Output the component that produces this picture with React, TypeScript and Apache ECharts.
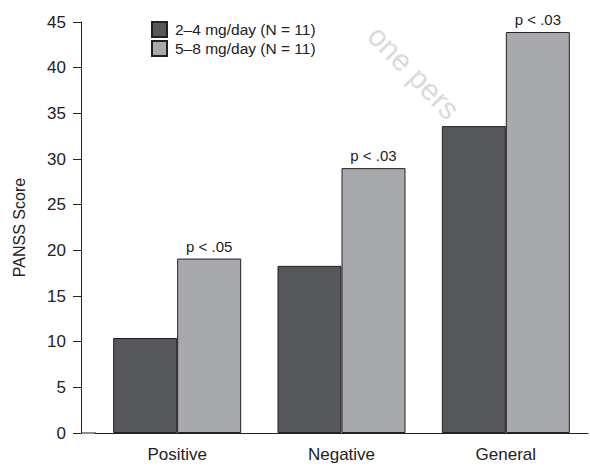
import React, { useEffect, useRef } from "react";
import * as echarts from "echarts";

const categories = ["Positive", "Negative", "General"];
const lowDose = [10.4, 18.3, 33.6];
const highDose = [19.1, 29.0, 43.9];
const pLabels = ["p < .05", "p < .03", "p < .03"];
const seriesNames = ["2\u20134 mg/day (N = 11)", "5\u20138 mg/day (N = 11)"];

const FONT = "Liberation Sans, Arial, Helvetica, sans-serif";

export default function App() {
  const ref = useRef<HTMLDivElement>(null);
  useEffect(() => {
    if (!ref.current) return;
    const chart = echarts.init(ref.current, null, { renderer: "svg" });
    chart.setOption({
      animation: false,
      backgroundColor: "#ffffff",
      textStyle: { fontFamily: FONT },
      grid: { left: 95, right: 2, top: 22, bottom: 34 },
      legend: {
        left: 151,
        top: 21,
        orient: "vertical",
        itemWidth: 15,
        itemHeight: 15,
        itemGap: 2,
        icon: "rect",
        padding: 0,
        textStyle: { fontSize: 15.5, color: "#222", fontFamily: FONT, padding: [0, 0, 0, 3] },
        data: seriesNames,
      },
      graphic: [
        {
          type: "line",
          shape: { x1: 81, y1: 433, x2: 96, y2: 433 },
          style: { stroke: "#222", lineWidth: 1 },
          z: 10,
        },
        {
          type: "text",
          x: 384,
          y: 20,
          rotation: -0.8,
          style: { text: "one pers", fontSize: 30, fill: "#dadada", fontFamily: FONT },
          z: -1,
        },
      ],
      xAxis: {
        type: "category",
        data: categories,
        axisLine: { show: true, lineStyle: { color: "#222", width: 1 } },
        axisTick: { show: false },
        axisLabel: { fontSize: 17, color: "#222", margin: 13, fontFamily: FONT },
      },
      yAxis: {
        type: "value",
        min: 0,
        max: 45,
        interval: 5,
        offset: 14,
        name: "PANSS Score",
        nameLocation: "middle",
        nameRotate: 90,
        nameGap: 54,
        nameTextStyle: { fontSize: 16, color: "#222", fontFamily: FONT },
        axisLine: { show: true, lineStyle: { color: "#222", width: 1 } },
        axisTick: { show: true, length: 8, lineStyle: { color: "#222" } },
        axisLabel: { fontSize: 17, color: "#222", margin: 15, fontFamily: FONT },
        splitLine: { show: false },
      },
      series: [
        {
          name: seriesNames[0],
          type: "bar",
          data: lowDose,
          barWidth: 64,
          barGap: "0%",
          itemStyle: { color: "#56575b", borderColor: "#222", borderWidth: 1 },
        },
        {
          name: seriesNames[1],
          type: "bar",
          data: highDose,
          barWidth: 64,
          barGap: "0%",
          itemStyle: { color: "#a8a9ac", borderColor: "#222", borderWidth: 1 },
          label: {
            show: true,
            position: "top",
            distance: 5,
            fontSize: 15,
            color: "#222",
            fontFamily: FONT,
            formatter: (p: any) => pLabels[p.dataIndex],
          },
        },
      ],
    });
    return () => chart.dispose();
  }, []);
  return (
    <div
      ref={ref}
      style={{ position: "absolute", left: 0, top: 0, width: 590, height: 467 }}
    />
  );
}
